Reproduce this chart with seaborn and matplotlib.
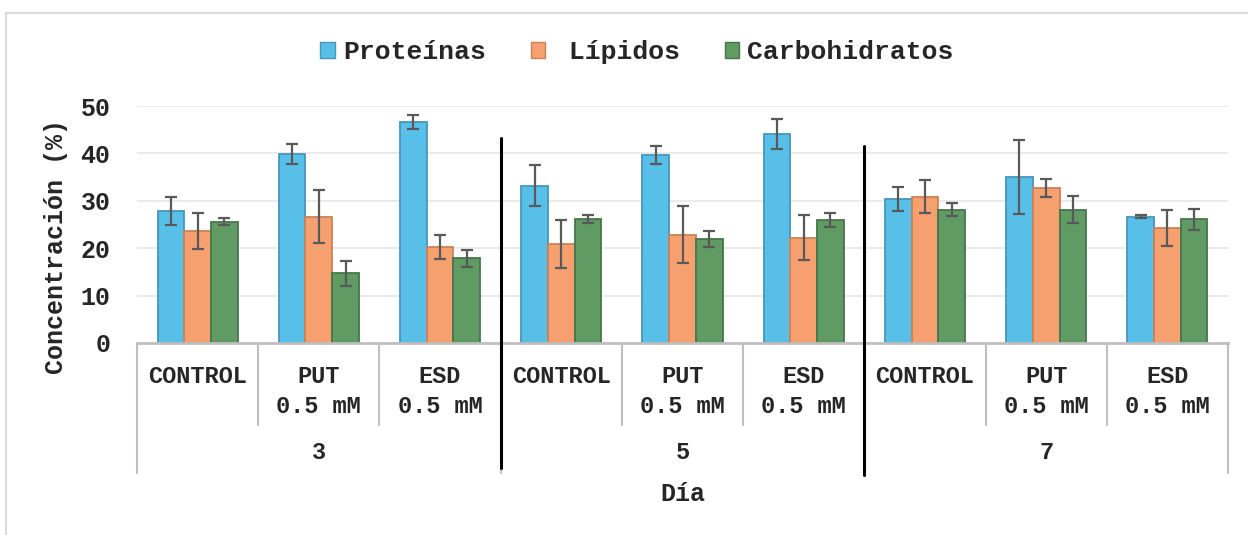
import numpy as np
import pandas as pd
import matplotlib
matplotlib.use("Agg")
import matplotlib.pyplot as plt
import matplotlib.transforms as mtransforms
from matplotlib.patches import Patch, Rectangle
import seaborn as sns

# data
dias = ["3", "5", "7"]
tratamientos = ["CONTROL", "PUT\n0.5 mM", "ESD\n0.5 mM"]
series = ["Proteínas", " Lípidos", "Carbohidratos"]

proteinas = [27.9, 39.9, 46.6, 33.2, 39.7, 44.1, 30.4, 35.0, 26.6]
proteinas_err = [3.0, 2.1, 1.4, 4.4, 1.9, 3.2, 2.45, 7.85, 0.3]
lipidos = [23.6, 26.6, 20.3, 20.9, 22.8, 22.2, 30.9, 32.7, 24.3]
lipidos_err = [3.8, 5.6, 2.5, 5.1, 6.0, 4.7, 3.55, 1.9, 3.85]
carbohidratos = [25.6, 14.7, 17.9, 26.1, 21.9, 25.9, 28.1, 28.1, 26.1]
carbohidratos_err = [0.8, 2.6, 1.8, 0.85, 1.75, 1.5, 1.35, 2.85, 2.2]

colores = ["#58C0E8", "#F6A070", "#5F9B63"]
bordes = ["#4596BA", "#C98257", "#46764C"]

grupos = [d + "|" + t for d in dias for t in tratamientos]
valores = [proteinas, lipidos, carbohidratos]
errores = [proteinas_err, lipidos_err, carbohidratos_err]

df = pd.DataFrame({
    "grupo": grupos * 3,
    "serie": np.repeat(series, len(grupos)),
    "valor": proteinas + lipidos + carbohidratos,
})

sns.set_style("white")
plt.rcParams['font.family'] = ['Liberation Mono', 'DejaVu Sans Mono']
plt.rcParams['font.weight'] = 'bold'

fig = plt.figure(figsize=(12.48, 5.35), dpi=100)
ax = fig.add_axes([137 / 1248, 1 - 343 / 535, (1228 - 137) / 1248, (343 - 106) / 535])

sns.barplot(data=df, x="grupo", y="valor", hue="serie", order=grupos,
            hue_order=series, palette=colores, saturation=1, width=0.66,
            errorbar=None, legend=False, ax=ax, zorder=2)

# bar edges + error bars
for cont, borde, err in zip(ax.containers, bordes, errores):
    xs, ys = [], []
    for bar in cont:
        bar.set_edgecolor(borde)
        bar.set_linewidth(1.3)
        xs.append(bar.get_x() + bar.get_width() / 2)
        ys.append(bar.get_height())
    ax.errorbar(xs, ys, yerr=err, fmt="none", ecolor="#595959",
                elinewidth=1.6, capsize=4.5, capthick=1.6, zorder=3)

ax.set_xlim(-0.5, len(grupos) - 0.5)
ax.set_ylim(0, 50)
ax.set_yticks([0, 10, 20, 30, 40, 50])
ax.yaxis.grid(True, color="#E6E6E6", lw=1.2, zorder=0)
ax.set_axisbelow(True)
for s in ["left", "top", "right"]:
    ax.spines[s].set_visible(False)
ax.spines["bottom"].set_color("#BFBFBF")
ax.spines["bottom"].set_linewidth(2)
ax.tick_params(axis="y", length=0, pad=19, labelsize=18)
ax.tick_params(axis="x", length=0, pad=16, labelsize=17)
ax.set_xticks(range(len(grupos)))
ax.set_xticklabels(tratamientos * 3)
for lab in ax.get_xticklabels():
    lab.set_linespacing(1.4)
    lab.set_fontweight("bold")
for lab in ax.get_yticklabels():
    lab.set_fontweight("bold")
ax.set_xlabel("")
ax.set_ylabel("")

# category box lines below the axis
tr = mtransforms.blended_transform_factory(ax.transData, ax.transAxes)
for i in range(len(grupos) + 1):
    x = i - 0.5
    fondo = -0.5485 if i % 3 == 0 else -0.346
    ax.plot([x, x], [0, fondo], transform=tr, color="#BFBFBF", lw=1.5,
            clip_on=False, zorder=1)

for k, d in enumerate(dias):
    ax.text(3 * k + 1, -0.46, d, transform=tr, ha="center", va="center",
            fontsize=17, fontweight="bold")

# separators between days
ax.plot([2.5, 2.5], [0.865, -0.527], transform=tr, color="black", lw=2.2,
        clip_on=False, zorder=4)
ax.plot([5.5, 5.5], [0.831, -0.557], transform=tr, color="black", lw=2.2,
        clip_on=False, zorder=4)

ax.text(0.5, -0.637, "Día", transform=ax.transAxes, ha="center", va="center",
        fontsize=18, fontweight="bold")
fig.text(56 / 1248, 1 - 247 / 535, "Concentración (%)", rotation=90,
         ha="center", va="center", fontsize=18, fontweight="bold")

handles = [Patch(facecolor=c, edgecolor=b, lw=1) for c, b in zip(colores, bordes)]
leg = fig.legend(handles, series, loc="center", bbox_to_anchor=(637 / 1248, 1 - 52 / 535),
                 ncol=3, frameon=False, handlelength=0.55, handleheight=0.55,
                 handletextpad=0.3, columnspacing=1.7,
                 prop={"family": "Liberation Mono", "weight": "bold", "size": 19})

fig.patches.append(Rectangle((6 / 1248, -0.05), 1.2, 1.05 - 13 / 535,
                             transform=fig.transFigure, fill=False,
                             edgecolor="#D9D9D9", lw=1.5))

fig.savefig("out.png", dpi=100)
